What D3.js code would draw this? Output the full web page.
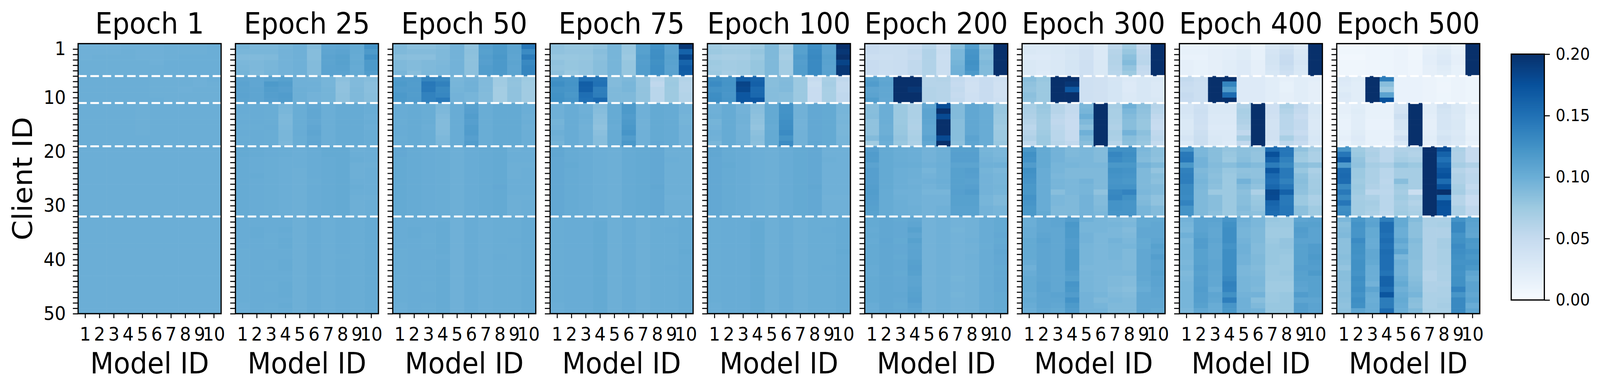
<!DOCTYPE html>
<html>
<head>
<meta charset="utf-8">
<script src="https://cdn.jsdelivr.net/npm/d3@7"></script>
<style>
html,body{margin:0;padding:0;background:#fff;width:100%;height:100%;overflow:hidden;}
svg{display:block;width:100vw;height:100vh;font-family:"DejaVu Sans",sans-serif;}
</style>
</head>
<body>
<svg id="chart" viewBox="0 0 4369 1001" preserveAspectRatio="none"></svg>
<script>
// ---------------- DATA (values in percent; >=20 is off the colour scale) ----------------
const epochTitles = ["Epoch 1","Epoch 25","Epoch 50","Epoch 75","Epoch 100","Epoch 200","Epoch 300","Epoch 400","Epoch 500"];
const modelIds = [1,2,3,4,5,6,7,8,9,10];
const clientTickLabels = [1,10,20,30,40,50];
const groupBoundaries = [6,11,19,32];
const colorbarTicks = [0,0.05,0.10,0.15,0.20];

const epoch1 = [
[9.7,9.7,9.7,9.8,9.8,9.8,9.9,9.9,9.9,10],[9.8,9.8,9.8,9.9,9.8,9.8,9.9,9.9,9.9,10],[9.8,9.9,9.9,9.9,9.8,9.8,9.9,10,10,10],
[9.9,9.9,9.9,9.9,9.9,9.8,10,10,10,10],[9.9,9.9,9.9,9.9,9.9,9.9,10,10,10,10],[9.9,9.9,9.9,9.9,9.9,9.9,10,10,10,10],
[10,10,10,10,10,9.9,9.9,9.9,9.8,10],[10,10,10,10,10,9.9,9.9,9.9,9.8,9.9],[10,10,10,10,10,9.9,9.9,9.8,9.9,9.9],
[10,10,10,10,10,9.9,9.9,9.9,9.9,9.9],[10,10,10,10,10,10,9.9,9.9,9.9,9.9],
[10,10,10,10,9.9,10,10,10,10,10],[10,10,10,10,9.9,10,10,10,10,10],[10,10,10,10,9.9,10,10,10,10,10],[10,10,10,10,9.9,10,10,10,10,10],
[10,10,10,10,9.9,10,10,10,10,10],[10,10,10,10,9.9,10,10,10,10,10],[10,10,10,10,10,10,10,10,10,10],[10,10,10,10,10,10,10,10,10,10],
[10,10,10,10,10,10,10,10,10,10],[10,10,10,10,10,10,10,10,10,10],[10,10,10,10,10,10,10,10,10,10],[10,10,10,10,10,10,10,10,10,10],
[10,10,10,10,10,10,10,10,10,10],[10,10,10,10,10,10,10,10,10,10],[10,10,10,10,10,10,10,10,10,10],[10,10,10,10,10,10,10,10,10,10],
[10,10,10,10,10,10,10,10,10,10],[10,10,10,10,10,10,10,10,10,10],[10,10,10,10,10,10,10,10,10,10],[10,10,10,10,10,10,10,10,10,10],
[10,10,10,10,10,10,10,10,10,10],
[10,10,10,10,10,10,10,10,10,10],[10,10,10,10,10,10,10,10,10,10],[10,10,10,10,10,10,10,10,10,10],[10,10,10,10,10,10,10,10,10,10],
[10,10,10,10,10,10,10,10,10,10],[10,10,10,10,10,10,10,10,10,10],[10,10,10,10,10,10,10,10,10,10],[10,10,10,10,10,10,10,10,10,10],
[10,10,10,10,10,10,10,10,10,10],[10,10,10,10,10,10,10,10,10,10],[10,10,10,10,10,10,10,10,10,10],[10,10,10,10,10,10,10,10,10,10],
[10,10,10,10,10,10,10,10,10,10],[10,10,10,10,10,10,10,10,10,10],[10,10,10,10,10,10,10,10,10,10],[10,10,10,10,10,10,10,10,10,10],
[10,10,10,10,10,10,10,10,10,10],[10,10,10,10,10,10,10,10,10,10]
];

const epoch25 = [
[9.5,9.2,9.2,9.5,9.8,8.8,10.7,10.8,10.4,12.4],[9.3,9.3,9.3,9.6,9.8,8.7,10.8,11.0,10.4,11.8],[8.9,8.9,9.0,9.6,9.8,8.7,11.0,11.2,10.3,12.5],
[9.2,9.1,9.3,9.6,9.8,8.8,10.9,11.2,10.4,11.8],[9.3,9.1,9.3,9.6,9.8,8.8,11.0,11.1,10.3,11.8],[9.5,9.0,9.4,9.6,9.8,8.8,11.0,11.0,10.4,11.5],
[10.8,10.7,11.0,11.2,9.8,9.7,9.4,8.4,8.9,8.7],[11.0,10.7,11.8,11.5,9.8,9.8,9.4,8.2,8.9,8.5],[10.9,10.8,11.5,11.3,9.9,9.8,9.5,8.2,9.0,8.5],
[11.0,10.8,11.4,11.6,9.9,9.6,9.5,8.3,9.0,8.6],[10.9,10.8,11.3,11.5,9.9,9.6,9.5,8.3,9.0,8.6],
[10.2,10.2,10.1,9.4,10.1,10.5,10.0,10.3,10.3,10.1],[10.2,10.2,10.1,9.3,10.1,10.6,10.0,10.3,10.3,10.1],[10.1,10.2,10.1,9.1,10.1,10.6,10.0,10.3,10.3,10.0],
[10.2,10.2,10.1,9.1,10.1,10.5,10.0,10.3,10.3,10.1],[10.1,10.1,10.2,9.2,10.1,10.7,10.0,10.3,10.3,10.0],[10.2,10.2,10.1,9.3,10.2,10.8,10.0,10.3,10.3,10.1],
[10.1,10.2,10.1,9.3,10.1,10.6,10.0,10.3,10.3,10.1],[10.2,10.2,10.1,9.2,10.1,10.7,10.0,10.3,10.3,10.1],
[10.4,10.3,10.2,10.1,10.0,10.2,10.4,10.4,9.9,10.0],[10.4,10.3,10.2,10.1,10.0,10.2,10.4,10.4,10.0,10.0],[10.3,10.2,10.1,10.0,10.0,10.2,10.3,10.4,10.1,10.0],
[10.3,10.2,10.1,10.0,10.0,10.2,10.3,10.4,9.9,9.9],[10.3,10.2,10.1,10.0,9.9,10.2,10.3,10.4,9.9,10.0],[10.3,10.3,10.1,10.0,9.9,10.2,10.3,10.4,9.9,10.0],
[10.3,10.2,10.1,10.0,9.9,10.1,10.3,10.4,10.0,10.0],[10.3,10.2,10.1,10.0,9.9,10.2,10.3,10.4,10.1,10.0],[10.3,10.2,10.1,10.0,9.9,10.2,10.3,10.4,10.0,10.0],
[10.3,10.2,10.1,10.0,9.9,10.2,10.3,10.4,9.9,9.9],[10.3,10.2,10.1,10.0,9.9,10.2,10.3,10.4,9.9,10.0],[10.3,10.2,10.1,10.0,9.9,10.2,10.3,10.4,9.9,10.0],
[10.3,10.2,10.1,10.0,9.9,10.2,10.3,10.4,9.9,10.0],
[10.2,10.2,10.2,10.2,9.9,10.2,10.0,10.2,10.1,10.3],[10.2,10.2,10.2,10.2,9.9,10.2,10.0,10.2,10.1,10.3],[10.2,10.3,10.2,10.3,9.9,10.2,10.0,10.2,10.1,10.3],
[10.2,10.3,10.1,10.2,9.9,10.2,10.0,10.2,10.1,10.3],[10.2,10.2,10.1,10.3,9.9,10.2,10.0,10.2,10.1,10.3],[10.2,10.2,10.1,10.3,9.9,10.2,10.0,10.2,10.1,10.3],
[10.1,10.2,10.2,10.2,9.9,10.2,10.0,10.2,10.1,10.3],[10.1,10.2,10.2,10.2,9.9,10.2,10.0,10.1,10.1,10.3],[10.1,10.2,10.1,10.3,9.9,10.2,10.0,10.2,10.1,10.3],
[10.1,10.2,10.1,10.3,9.9,10.2,10.0,10.2,10.1,10.3],[10.1,10.2,10.2,10.2,9.9,10.2,10.0,10.2,10.1,10.3],[10.1,10.2,10.2,10.2,9.9,10.2,10.0,10.2,10.1,10.3],
[10.1,10.2,10.1,10.3,9.9,10.2,10.0,10.2,10.1,10.3],[10.1,10.2,10.1,10.3,9.9,10.2,10.0,10.2,10.1,10.3],[10.1,10.2,10.2,10.3,9.9,10.2,10.0,10.2,10.1,10.3],
[10.1,10.2,10.2,10.2,9.9,10.2,10.0,10.2,10.1,10.3],[10.0,10.2,10.1,10.3,9.9,10.2,10.0,10.2,10.1,10.3],[10.0,10.2,10.1,10.2,9.9,10.2,10.0,10.2,10.1,10.3]
];

const epoch50 = [
[9.0,8.5,8.5,8.8,9.6,8.2,11.3,11.8,10.9,14.5],[9.0,8.8,8.8,9.0,9.6,8.4,11.2,11.8,10.9,13.0],[8.6,8.5,8.5,9.0,9.6,8.3,11.4,12.0,10.8,14.2],
[9.0,8.8,9.0,9.1,9.6,8.3,11.3,11.9,10.9,13.2],[9.0,8.8,9.0,9.2,9.6,8.3,11.5,11.9,10.8,13.5],[9.3,8.6,9.1,9.2,9.6,8.4,11.5,11.8,10.9,13.5],
[11.6,11.6,13.5,13.2,9.3,9.6,8.9,7.4,8.2,7.5],[11.8,11.5,14.5,13.8,9.4,9.7,8.9,7.3,8.1,7.4],[11.6,11.6,14.4,13.2,9.5,9.7,8.9,7.1,8.2,7.3],
[11.9,11.5,13.7,13.3,9.6,9.4,8.8,7.1,8.2,7.3],[11.8,11.6,13.7,14.3,9.6,9.4,8.8,7.1,8.2,7.3],
[10.2,10.3,10.1,9.2,10.2,11.2,10.1,10.4,10.4,10.0],[10.2,10.3,10.1,9.1,10.2,11.3,10.1,10.4,10.4,10.0],[10.2,10.3,10.1,8.9,10.2,11.5,10.1,10.4,10.4,9.9],
[10.1,10.3,10.1,8.8,10.2,11.3,10.1,10.4,10.4,10.0],[10.2,10.3,10.0,8.8,10.2,11.5,10.1,10.4,10.4,9.9],[10.2,10.3,10.1,8.9,10.2,11.6,10.1,10.4,10.4,10.0],
[10.1,10.3,10.1,9.1,10.2,11.3,10.1,10.4,10.4,10.0],[10.2,10.3,10.1,9.2,10.2,11.5,10.1,10.4,10.4,10.0],
[10.5,10.3,10.2,10.1,9.9,10.2,10.3,10.4,9.9,10.0],[10.5,10.3,10.2,10.1,9.9,10.2,10.3,10.4,10.0,10.0],[10.4,10.3,10.2,10.1,9.9,10.2,10.3,10.4,10.0,10.0],
[10.4,10.3,10.2,10.1,9.9,10.2,10.3,10.4,9.9,9.9],[10.4,10.3,10.2,10.1,9.9,10.2,10.3,10.4,9.9,10.0],[10.4,10.3,10.2,10.1,9.9,10.2,10.3,10.4,9.9,10.0],
[10.4,10.3,10.2,10.1,9.9,10.2,10.3,10.4,10.0,10.0],[10.4,10.3,10.2,10.1,9.9,10.2,10.3,10.5,10.0,10.0],[10.4,10.3,10.2,10.1,9.9,10.2,10.3,10.4,10.0,10.0],
[10.4,10.3,10.2,10.1,9.9,10.2,10.3,10.4,9.9,9.9],[10.4,10.3,10.2,10.1,9.9,10.2,10.3,10.4,9.9,10.0],[10.4,10.3,10.2,10.1,9.9,10.2,10.3,10.4,9.9,10.0],
[10.4,10.3,10.2,10.1,9.9,10.2,10.3,10.4,9.9,10.0],
[10.2,10.2,10.2,10.2,9.8,10.2,10.0,10.1,10.1,10.3],[10.2,10.2,10.2,10.3,9.8,10.2,10.0,10.1,10.1,10.3],[10.2,10.3,10.2,10.3,9.8,10.2,10.0,10.1,10.1,10.3],
[10.2,10.3,10.1,10.3,9.8,10.2,10.0,10.1,10.1,10.3],[10.2,10.2,10.1,10.3,9.8,10.2,10.0,10.1,10.2,10.3],[10.2,10.2,10.1,10.3,9.8,10.2,10.0,10.1,10.1,10.3],
[10.1,10.2,10.2,10.3,9.8,10.2,10.0,10.1,10.1,10.3],[10.1,10.2,10.2,10.2,9.8,10.2,10.0,10.2,10.1,10.3],[10.1,10.2,10.1,10.3,9.8,10.2,10.0,10.1,10.1,10.3],
[10.1,10.2,10.1,10.3,9.8,10.2,10.0,10.1,10.1,10.3],[10.1,10.2,10.2,10.3,9.8,10.2,10.0,10.1,10.1,10.3],[10.1,10.2,10.2,10.3,9.8,10.2,10.0,10.1,10.1,10.3],
[10.1,10.2,10.1,10.3,9.8,10.2,10.0,10.1,10.1,10.3],[10.1,10.2,10.1,10.3,9.8,10.2,10.0,10.1,10.1,10.3],[10.1,10.2,10.2,10.3,9.8,10.2,10.0,10.1,10.1,10.3],
[10.1,10.2,10.2,10.3,9.8,10.2,10.0,10.1,10.1,10.3],[10.0,10.2,10.1,10.3,9.8,10.2,10.0,10.1,10.1,10.3],[10.0,10.2,10.1,10.3,9.8,10.2,10.0,10.1,10.1,10.3]
];

const epoch75 = [
[8.2,7.9,7.9,8.2,9.4,7.8,11.2,12.5,11.0,19.5],[8.2,8.0,8.0,8.6,9.4,7.8,11.2,12.7,11.0,16.2],[7.8,7.8,7.9,8.4,9.4,7.6,11.5,12.8,11.2,18.2],
[8.2,7.9,8.0,8.6,9.4,7.9,11.4,12.6,11.1,16.0],[8.0,7.9,8.0,8.6,9.4,7.9,11.5,12.7,11.0,16.7],[8.3,7.7,8.0,8.6,9.4,7.9,11.5,12.7,11.1,16.5],
[12.4,12.2,15.0,14.8,8.8,9.1,8.0,5.8,7.5,6.2],[12.8,12.3,16.5,15.0,8.8,9.3,8.0,5.4,7.6,6.0],[12.3,12.2,16.3,14.0,9.0,9.3,8.1,5.8,7.5,6.0],
[12.5,12.0,15.2,14.1,9.0,9.0,8.1,5.8,7.5,6.2],[12.6,12.2,15.0,15.6,9.0,9.0,8.1,5.8,7.5,6.2],
[9.8,10.2,9.8,8.8,10.3,11.8,9.8,10.4,10.3,9.6],[9.8,10.2,9.8,8.7,10.3,11.8,9.8,10.4,10.3,9.6],[9.8,10.2,9.9,8.5,10.3,11.6,9.8,10.4,10.3,9.5],
[9.5,10.2,9.8,8.4,10.3,11.8,9.7,10.4,10.3,9.5],[9.6,10.2,9.7,8.2,10.2,12.0,9.7,10.4,10.3,9.6],[9.9,10.2,9.8,8.5,10.3,12.2,9.8,10.4,10.3,9.6],
[9.7,10.2,9.8,8.7,10.3,11.6,9.8,10.4,10.3,9.6],[9.5,10.2,9.8,8.7,10.3,12.0,9.8,10.5,10.3,9.6],
[10.6,10.3,10.2,10.0,9.9,10.3,10.4,10.5,9.9,9.9],[10.6,10.3,10.2,10.0,9.9,10.3,10.4,10.5,9.9,9.9],[10.5,10.3,10.2,10.0,9.9,10.3,10.4,10.5,10.0,9.9],
[10.5,10.4,10.2,10.0,9.9,10.3,10.4,10.5,9.9,9.9],[10.5,10.3,10.2,10.0,9.9,10.3,10.4,10.5,9.9,9.9],[10.5,10.3,10.2,10.0,9.9,10.3,10.4,10.5,9.9,9.9],
[10.5,10.3,10.2,10.0,9.9,10.3,10.4,10.5,9.9,9.9],[10.5,10.3,10.2,10.0,9.9,10.3,10.4,10.6,9.9,9.9],[10.5,10.3,10.2,10.0,9.9,10.3,10.4,10.5,9.9,9.9],
[10.5,10.3,10.2,10.0,9.9,10.3,10.4,10.5,9.8,9.8],[10.5,10.3,10.2,10.0,9.9,10.3,10.4,10.5,9.9,9.9],[10.5,10.3,10.2,10.0,9.9,10.3,10.4,10.5,9.9,9.9],
[10.5,10.3,10.2,10.0,9.9,10.3,10.4,10.5,9.9,9.9],
[10.1,10.2,10.2,10.3,9.9,10.2,9.9,10.1,10.1,10.3],[10.1,10.2,10.2,10.4,9.9,10.2,9.9,10.1,10.1,10.3],[10.1,10.2,10.2,10.4,9.9,10.2,9.9,10.1,10.2,10.3],
[10.1,10.2,10.2,10.4,9.9,10.2,9.9,10.1,10.1,10.3],[10.1,10.2,10.2,10.4,9.9,10.2,9.9,10.1,10.1,10.3],[10.1,10.2,10.2,10.4,9.9,10.2,9.9,10.1,10.1,10.3],
[10.1,10.2,10.2,10.4,9.9,10.2,9.9,10.1,10.1,10.4],[10.1,10.2,10.2,10.4,9.9,10.2,9.9,10.1,10.1,10.3],[10.1,10.2,10.2,10.4,9.9,10.2,9.9,10.1,10.1,10.3],
[10.1,10.2,10.2,10.4,9.9,10.2,9.9,10.1,10.2,10.3],[10.1,10.2,10.2,10.4,9.9,10.2,9.9,10.1,10.1,10.3],[10.1,10.2,10.2,10.4,9.9,10.2,9.9,10.1,10.1,10.3],
[10.1,10.2,10.2,10.4,9.9,10.2,9.9,10.1,10.1,10.3],[10.1,10.2,10.2,10.4,9.9,10.2,9.9,10.1,10.1,10.3],[10.1,10.2,10.2,10.4,9.9,10.2,9.9,10.1,10.1,10.3],
[10.1,10.2,10.2,10.4,9.9,10.2,9.9,10.1,10.1,10.3],[10.0,10.2,10.2,10.4,9.9,10.2,9.9,10.1,10.1,10.3],[10.0,10.2,10.2,10.4,9.9,10.2,9.9,10.1,10.1,10.3]
];

const epoch100 = [
[7.4,7.0,7.0,7.5,9.0,6.9,11.2,12.8,11.0,21],[7.6,7.3,7.3,7.9,9.0,7.2,11.2,13.0,11.0,19.5],[7.0,6.9,7.0,7.6,9.0,6.9,11.6,13.2,11.2,21],
[7.5,7.2,7.3,7.9,9.0,7.2,11.4,13.1,11.1,18.5],[7.3,7.2,7.3,7.9,9.0,7.2,11.5,13.1,11.0,19.5],[7.6,7.0,7.3,7.9,9.0,7.2,11.5,13.1,11.1,19.5],
[12.6,12.2,16.5,16.0,8.6,8.8,7.6,5.0,6.8,5.4],[13.0,12.3,18.5,16.3,8.6,8.9,7.6,4.6,7.0,5.1],[12.4,12.2,18.2,15.6,8.7,8.9,7.6,4.8,6.8,5.2],
[12.8,12.1,17.0,15.7,8.7,8.6,7.6,4.8,6.8,5.4],[12.9,12.2,17.0,17.0,8.7,8.6,7.6,4.8,6.8,5.4],
[9.8,10.3,9.6,8.6,10.4,12.4,9.7,10.5,10.4,9.4],[9.8,10.3,9.6,8.5,10.4,12.4,9.7,10.5,10.4,9.4],[9.9,10.3,9.7,8.3,10.4,12.5,9.7,10.5,10.4,9.3],
[9.5,10.3,9.7,8.2,10.4,12.7,9.6,10.5,10.4,9.4],[9.6,10.3,9.6,8.0,10.3,12.8,9.6,10.5,10.4,9.3],[9.8,10.3,9.7,8.4,10.4,13.0,9.7,10.5,10.4,9.3],
[9.7,10.3,9.7,8.6,10.4,12.3,9.7,10.5,10.4,9.4],[9.3,10.3,9.8,8.5,10.4,13.0,9.7,10.6,10.4,9.4],
[10.6,10.3,10.2,10.0,9.9,10.2,10.4,10.5,9.8,9.8],[10.6,10.3,10.2,10.0,9.9,10.2,10.4,10.5,9.8,9.8],[10.5,10.3,10.2,10.0,9.9,10.2,10.4,10.5,9.9,9.8],
[10.5,10.4,10.2,10.0,9.9,10.2,10.4,10.5,9.8,9.8],[10.5,10.3,10.2,10.0,9.9,10.2,10.4,10.5,9.8,9.8],[10.5,10.3,10.2,10.0,9.9,10.2,10.4,10.5,9.8,9.8],
[10.5,10.3,10.2,10.0,9.9,10.2,10.4,10.5,9.8,9.8],[10.5,10.3,10.2,10.0,9.9,10.2,10.4,10.6,9.8,9.8],[10.5,10.3,10.2,10.0,9.9,10.2,10.4,10.5,9.8,9.8],
[10.5,10.3,10.2,10.0,9.9,10.2,10.4,10.5,9.7,9.7],[10.5,10.3,10.2,10.0,9.9,10.2,10.4,10.5,9.8,9.8],[10.5,10.3,10.2,10.0,9.9,10.2,10.4,10.5,9.8,9.8],
[10.5,10.3,10.2,10.0,9.9,10.2,10.4,10.5,9.8,9.8],
[10.1,10.2,10.2,10.3,9.9,10.2,9.9,10.1,10.1,10.3],[10.1,10.2,10.2,10.4,9.9,10.2,9.9,10.1,10.1,10.3],[10.1,10.2,10.2,10.4,9.9,10.2,9.9,10.1,10.2,10.3],
[10.1,10.2,10.2,10.4,9.9,10.2,9.9,10.1,10.1,10.3],[10.1,10.2,10.2,10.4,9.9,10.2,9.9,10.1,10.1,10.3],[10.1,10.2,10.2,10.4,9.9,10.2,9.9,10.1,10.1,10.3],
[10.1,10.2,10.2,10.4,9.9,10.2,9.9,10.1,10.1,10.4],[10.1,10.2,10.2,10.4,9.9,10.2,9.9,10.1,10.1,10.3],[10.1,10.2,10.2,10.4,9.9,10.2,9.9,10.1,10.1,10.3],
[10.1,10.2,10.2,10.4,9.9,10.2,9.9,10.1,10.2,10.3],[10.1,10.2,10.2,10.4,9.9,10.2,9.9,10.1,10.1,10.3],[10.1,10.2,10.2,10.4,9.9,10.2,9.9,10.1,10.1,10.3],
[10.1,10.2,10.2,10.4,9.9,10.2,9.9,10.1,10.1,10.3],[10.1,10.2,10.2,10.4,9.9,10.2,9.9,10.1,10.1,10.3],[10.1,10.2,10.2,10.4,9.9,10.2,9.9,10.1,10.1,10.3],
[10.1,10.2,10.2,10.4,9.9,10.2,9.9,10.1,10.1,10.3],[10.0,10.2,10.2,10.4,9.9,10.2,9.9,10.1,10.1,10.3],[10.0,10.2,10.2,10.4,9.9,10.2,9.9,10.1,10.1,10.3]
];

const epoch200 = [
[4.8,4.5,4.6,4.8,5.8,4.2,8.6,11.5,8.2,25],[4.8,4.6,4.6,5.2,6.3,4.6,9.2,12.2,8.8,25],[4.4,4.4,4.6,5.0,6.3,4.4,9.2,12.4,8.6,25],
[4.8,4.6,4.7,5.3,6.3,4.6,9.5,12.6,9.0,25],[4.8,4.6,4.7,5.3,6.3,4.6,9.7,12.4,8.8,25],[4.8,4.5,4.7,5.3,6.3,4.6,9.8,11.8,8.8,25],
[11.2,10.6,25,25,6.0,6.2,5.2,4.2,4.8,4.2],[11.6,10.8,25,25,6.0,6.0,5.0,4.0,4.8,4.0],[10.8,10.6,25,19.5,6.2,6.0,5.2,4.0,4.8,4.0],
[11.0,10.6,25,25,6.2,6.0,5.0,4.2,4.8,4.0],[11.5,10.5,25,25,6.2,6.0,5.2,4.2,4.8,4.2],
[8.6,10.0,7.6,6.6,10.6,17.8,8.8,10.6,10.2,7.8],[8.6,10.0,7.6,6.6,10.9,20,8.8,10.6,10.2,7.8],[8.7,10.0,7.6,6.6,10.9,18,8.8,10.6,10.2,7.6],
[8.2,10.0,7.6,6.5,10.8,20,8.6,10.6,10.2,7.6],[8.2,9.9,7.7,6.4,10.6,21,8.6,10.6,10.2,7.4],[8.2,9.9,7.8,6.6,10.6,21,8.6,10.6,10.2,7.6],
[8.8,10.2,8.0,6.8,11.0,18,8.6,11.0,10.2,7.6],[7.4,10.0,7.8,6.6,10.6,21,8.4,10.8,10.2,7.8],
[11.3,10.4,10.1,10.0,9.6,9.9,11.2,11.2,9.4,9.2],[11.6,10.4,10.1,10.0,9.6,9.9,11.3,11.3,9.5,9.2],[11.5,10.4,10.1,10.0,9.6,9.9,11.3,11.3,9.6,9.4],
[11.0,10.4,10.2,10.1,9.8,10.0,10.9,10.9,9.8,9.8],[11.3,10.4,10.0,9.9,9.4,9.9,11.2,11.4,9.5,9.2],[11.3,10.4,10.0,9.9,9.6,9.9,11.2,11.3,9.6,9.4],
[11.3,10.4,10.0,9.8,9.8,10.0,11.2,11.1,9.6,9.4],[11.4,10.4,10.0,9.9,9.6,9.9,11.2,11.3,9.6,9.5],[11.5,10.3,9.8,9.8,9.4,9.4,11.3,11.6,9.6,9.4],
[11.4,10.3,9.9,9.8,9.6,9.6,11.2,11.2,9.4,9.0],[11.3,10.3,10.0,9.8,9.6,9.6,11.2,11.2,9.4,9.0],[11.2,10.3,10.0,9.9,9.6,9.8,11.1,11.1,9.6,9.4],
[11.1,10.3,10.0,9.9,9.6,9.8,11.1,11.1,9.6,9.4],
[10.4,10.6,10.4,10.6,9.6,9.8,9.6,9.7,10.2,10.4],[10.4,10.6,10.5,10.8,9.6,9.8,9.6,9.7,10.2,10.4],[10.3,10.6,10.5,11.2,9.6,9.8,9.5,9.7,10.2,10.4],
[10.4,10.6,10.5,10.8,9.6,9.8,9.6,9.7,10.2,10.5],[10.3,10.7,10.4,11.2,9.6,9.8,9.6,9.8,10.2,10.4],[10.4,10.6,10.5,10.9,9.6,9.8,9.6,9.7,10.1,10.5],
[10.4,10.6,10.5,11.0,9.6,9.8,9.6,9.7,10.2,10.6],[10.4,10.6,10.4,11.0,9.6,9.8,9.6,9.8,10.2,10.5],[10.4,10.6,10.5,11.2,9.6,9.8,9.6,9.7,10.2,10.5],
[10.3,10.6,10.5,11.3,9.6,9.8,9.6,9.7,10.2,10.4],[10.3,10.6,10.4,11.2,9.6,9.8,9.6,9.7,10.2,10.5],[10.4,10.6,10.5,10.9,9.6,9.8,9.5,9.7,10.2,10.5],
[10.4,10.6,10.5,10.9,9.6,9.8,9.6,9.7,10.2,10.5],[10.4,10.6,10.5,11.1,9.6,9.8,9.6,9.7,10.2,10.5],[10.4,10.6,10.6,11.2,9.6,9.8,9.5,9.7,10.2,10.4],
[10.4,10.6,10.5,11.3,9.6,9.8,9.6,9.7,10.2,10.4],[10.2,10.6,10.4,11.0,9.6,9.8,9.6,9.7,10.2,10.4],[10.2,10.6,10.5,10.8,9.6,9.8,9.6,9.7,10.2,10.4]
];

const epoch300 = [
[2.8,2.8,2.9,3.2,3.8,2.7,5.5,7.2,5.0,25],[3.0,2.8,3.0,3.4,4.0,2.8,6.0,7.8,5.4,25],[2.6,2.6,2.9,3.3,4.0,2.8,6.2,8.4,5.6,25],
[3.0,2.8,3.0,3.5,4.2,3.0,6.2,8.8,5.8,25],[3.0,2.8,3.0,3.5,4.2,3.0,6.0,8.0,5.2,25],[3.0,2.6,3.0,3.4,4.2,3.0,5.8,7.5,5.0,25],
[8.6,7.8,25,25,4.2,4.0,3.4,2.8,3.2,3.0],[8.2,7.6,25,19.5,4.2,4.0,3.5,2.6,3.2,2.8],[8.0,7.6,25,17.0,4.2,4.0,3.5,2.6,3.2,2.8],
[8.4,7.6,25,25,4.2,4.0,3.5,2.8,3.2,2.8],[8.2,7.6,25,25,4.2,4.0,3.5,2.8,3.2,3.0],
[6.8,7.8,6.0,5.2,9.2,25,7.0,9.8,8.4,6.0],[6.6,7.6,6.0,5.2,9.4,25,6.8,9.2,8.2,5.8],[6.4,7.4,5.6,5.0,10.0,25,6.8,8.8,8.0,5.4],
[6.0,7.2,5.4,4.8,9.0,25,6.6,8.6,7.8,5.0],[5.6,7.2,5.6,4.8,8.4,25,6.4,8.6,7.8,4.8],[6.0,7.4,5.8,5.0,9.8,25,6.8,9.6,8.4,5.4],
[6.4,7.6,5.8,5.0,9.0,25,6.6,8.6,8.0,5.6],[5.6,7.6,6.0,5.4,8.6,25,6.0,8.4,7.8,5.2],
[12.0,10.4,9.6,9.0,9.2,8.8,12.6,12.6,9.2,8.4],[12.6,10.4,9.6,9.0,9.2,8.8,13.4,12.8,9.0,8.4],[12.4,10.4,9.6,9.2,9.2,8.8,13.0,12.6,8.8,8.2],
[11.6,10.4,9.4,9.4,9.2,9.2,12.0,12.0,9.6,9.0],[12.6,10.2,9.4,9.0,9.0,9.0,12.6,12.4,9.0,8.0],[12.4,10.2,9.2,9.0,9.0,9.0,12.4,12.2,9.0,8.6],
[12.2,10.2,9.4,9.2,9.6,9.0,12.2,12.0,9.0,8.4],[12.0,10.2,9.4,9.2,9.4,9.0,12.4,12.4,9.0,8.8],[12.0,10.2,8.6,9.2,9.4,8.2,13.2,13.6,9.2,8.8],
[12.4,10.2,9.2,9.0,9.6,8.8,13.4,12.6,8.8,8.2],[12.2,10.2,9.2,9.0,9.6,8.8,12.4,12.2,9.0,8.2],[12.0,10.2,9.0,9.0,9.6,9.0,12.4,12.2,9.4,8.8],
[12.0,10.4,9.0,9.0,9.6,9.2,12.2,12.2,9.4,8.8],
[10.0,10.6,10.8,11.4,9.8,9.4,9.2,9.0,10.4,10.4],[10.0,10.6,10.8,12.0,9.4,9.4,9.4,9.2,10.4,10.6],[10.2,10.6,10.6,11.8,9.4,9.4,9.2,8.8,10.6,10.6],
[10.2,10.8,10.6,11.8,9.6,9.2,9.2,9.0,10.6,10.6],[10.4,11.0,10.6,11.6,9.6,9.2,9.6,9.2,10.4,10.8],[10.4,10.8,10.6,11.6,9.4,9.2,9.4,9.4,10.4,11.2],
[10.4,10.8,10.6,11.8,9.4,9.2,9.4,9.0,10.6,11.0],[10.4,10.8,10.6,11.8,9.4,9.2,9.4,9.0,10.6,11.4],[10.2,10.8,10.6,11.8,9.4,9.2,9.2,9.0,10.6,11.0],
[9.8,10.8,10.6,11.8,9.2,9.2,9.2,9.0,10.6,11.0],[10.2,10.8,10.6,11.4,9.4,9.2,9.2,9.2,10.6,11.2],[10.4,10.8,10.6,11.2,9.4,9.2,9.0,8.8,10.6,11.0],
[10.4,11.0,10.6,12.2,9.4,9.2,9.0,8.8,10.4,11.0],[10.4,11.0,10.6,12.0,9.4,9.2,8.8,8.6,10.2,10.8],[10.2,10.8,11.0,11.6,9.6,9.4,9.0,8.8,10.6,10.8],
[10.4,10.8,10.8,12.4,9.6,9.0,9.2,9.0,10.6,10.6],[10.2,10.8,10.6,11.8,9.6,9.4,9.0,9.0,10.6,10.6],[10.0,10.6,10.4,11.6,9.6,9.6,9.0,9.0,10.6,10.4]
];

const epoch400 = [
[1.4,1.4,1.6,1.6,2.0,1.4,3.0,3.8,2.6,25],[1.6,1.6,1.8,2.0,2.4,1.6,3.4,4.4,3.0,25],[1.4,1.4,1.8,2.0,2.4,1.6,3.6,4.8,3.2,25],
[1.8,1.6,1.8,2.2,2.6,1.8,3.6,5.0,3.4,25],[1.8,1.6,1.8,2.2,2.6,1.8,3.4,4.6,3.2,25],[1.8,1.6,1.8,2.2,2.6,1.8,3.2,4.2,3.0,25],
[5.2,4.6,25,25,2.6,2.6,2.2,1.8,2.2,2.0],[4.8,4.4,25,13.5,2.6,2.6,2.2,1.6,2.2,1.8],[4.6,4.4,25,11.5,2.6,2.6,2.2,1.6,2.2,1.8],
[5.0,4.4,25,15.5,2.6,2.6,2.2,1.8,2.2,1.8],[4.8,4.4,25,25,2.6,2.6,2.2,1.8,2.2,1.8],
[3.4,4.2,3.0,3.0,6.4,25,4.2,6.6,5.4,3.2],[3.4,4.4,3.0,3.0,6.8,25,4.2,6.2,5.2,3.2],[3.2,4.2,2.8,2.8,6.6,25,4.0,5.8,4.8,3.0],
[2.8,4.2,2.8,2.8,6.4,25,3.8,5.8,5.2,2.8],[2.8,4.0,2.6,2.6,6.0,25,3.8,5.8,5.2,2.8],[3.0,4.4,2.8,2.8,5.4,25,4.0,5.6,4.8,3.0],
[3.4,4.6,3.0,2.8,7.0,25,4.0,6.8,5.4,3.2],[2.8,4.6,3.0,2.6,5.4,25,3.4,5.6,5.0,3.0],
[12.4,9.2,8.6,8.0,8.4,8.2,15.5,14.6,8.2,7.0],[14.4,9.2,8.6,7.8,8.4,8.0,17.6,14.6,7.6,6.6],[14.6,9.6,8.6,7.6,8.6,8.0,16.2,13.8,7.4,6.6],
[12.0,9.6,8.8,8.6,9.2,8.8,14.2,13.2,8.6,8.2],[13.8,9.0,8.6,7.8,8.2,8.2,17.0,14.4,7.8,6.6],[14.0,9.2,8.4,7.6,8.4,8.2,15.6,14.4,8.4,7.0],
[14.0,9.4,8.6,7.6,9.6,8.6,15.2,13.8,8.6,7.2],[13.2,9.2,8.4,7.6,8.8,8.2,15.8,14.6,8.4,7.2],[13.2,9.0,7.6,7.6,8.4,6.6,18.2,16.2,8.2,7.4],
[13.0,9.0,8.6,7.6,8.6,7.6,18.0,14.4,7.6,6.6],[13.6,9.0,8.6,7.6,8.6,7.8,16.0,14.4,7.6,6.8],[12.4,9.0,8.6,7.6,8.8,8.0,15.6,14.6,8.4,7.4],
[12.4,9.0,8.4,7.6,8.6,8.4,15.4,14.6,8.4,7.4],
[9.6,11.0,11.0,12.2,9.8,9.2,7.8,7.6,10.8,11.0],[9.4,11.0,10.8,12.6,9.6,9.2,7.6,7.6,11.2,11.2],[9.2,11.0,10.6,12.8,9.4,9.0,7.4,7.4,11.6,11.0],
[9.8,11.2,10.6,12.8,9.4,9.0,7.4,7.4,11.4,11.0],[9.2,11.6,10.8,12.8,9.6,9.0,7.6,8.0,11.0,11.0],[9.4,11.6,10.6,12.4,9.8,8.8,7.8,8.0,11.2,11.6],
[9.4,11.2,10.6,12.8,9.8,8.8,7.8,7.8,11.2,11.6],[9.4,11.2,10.6,12.8,9.6,9.0,7.8,7.6,11.2,11.8],[9.2,11.2,10.8,12.8,9.6,9.0,7.8,7.6,11.2,11.6],
[9.4,11.4,10.8,12.8,9.2,8.8,7.6,7.6,11.4,11.4],[9.0,11.2,10.6,12.8,9.2,9.0,7.6,7.8,11.2,11.8],[9.2,11.4,10.6,13.2,9.4,9.2,7.6,7.6,11.2,11.2],
[9.4,11.4,10.6,13.8,9.4,9.2,7.4,7.4,11.0,11.2],[9.4,11.6,10.2,13.6,9.4,9.0,7.4,7.4,10.8,11.2],[9.4,11.4,10.8,12.6,9.6,9.6,7.6,7.8,11.6,11.2],
[9.4,11.4,10.6,14.0,9.8,8.6,7.6,7.8,10.8,10.8],[9.4,11.2,10.2,12.2,9.8,9.0,7.8,7.8,11.4,11.0],[9.2,10.6,10.2,12.0,9.8,9.6,7.8,7.8,11.4,11.0]
];

const epoch500 = [
[0.6,0.6,0.8,0.8,1.0,0.6,1.6,2.0,1.4,25],[0.8,0.8,0.9,1.0,1.2,0.8,1.8,2.4,1.6,25],[0.6,0.6,0.9,1.0,1.2,0.8,2.0,2.6,1.8,25],
[0.8,0.8,0.9,1.0,1.2,0.9,2.0,2.8,1.8,25],[0.8,0.8,0.9,1.0,1.2,0.9,1.8,2.4,1.6,25],[0.8,0.8,0.9,1.0,1.2,0.9,1.8,2.2,1.6,25],
[2.8,2.4,25,14.2,1.4,1.4,1.2,1.0,1.2,1.0],[2.6,2.2,25,8.6,1.4,1.4,1.2,0.9,1.2,1.0],[2.4,2.2,25,7.6,1.4,1.4,1.2,0.9,1.2,1.0],
[2.8,2.2,25,11.0,1.4,1.4,1.2,1.0,1.2,1.0],[2.6,2.2,25,17.5,1.4,1.4,1.2,1.0,1.2,1.0],
[1.8,2.2,1.6,1.6,3.6,25,2.2,4.0,3.0,1.8],[1.8,2.4,1.6,1.6,3.8,25,2.2,3.6,3.0,1.8],[1.6,2.2,1.6,1.6,4.4,25,2.0,3.4,2.8,1.6],
[1.4,2.2,1.4,1.4,3.6,25,1.8,3.4,3.0,1.4],[1.4,2.2,1.4,1.4,3.6,25,1.8,3.4,3.0,1.4],[1.6,2.4,1.6,1.6,3.0,25,2.0,3.2,2.8,1.6],
[1.8,2.6,1.6,1.6,4.0,25,2.2,3.8,3.0,1.8],[1.4,2.4,1.6,1.4,3.2,25,1.8,3.4,2.8,1.6],
[12.2,7.4,6.4,5.6,6.4,6.4,25,17.8,6.6,5.0],[14.6,7.6,6.6,5.6,6.6,6.2,25,16.2,6.4,5.0],[16.4,8.0,6.4,5.6,7.0,6.6,25,15.0,6.4,5.0],
[11.6,8.2,7.0,6.6,8.0,7.6,25,16.0,7.0,6.4],[15.4,7.6,6.6,5.8,7.0,7.0,25,17.0,6.0,5.4],[15.6,7.6,6.6,5.8,7.0,7.0,25,17.5,6.4,5.6],
[15.4,7.4,6.6,5.6,8.6,7.0,25,15.4,6.4,5.6],[13.2,7.6,6.4,5.8,7.4,7.0,25,17.4,6.8,5.2],[14.4,7.4,5.6,5.6,7.0,4.6,25,20.0,7.0,5.6],
[13.2,7.0,6.6,5.8,7.4,6.6,25,15.0,6.0,4.8],[14.6,7.2,7.0,5.8,7.0,6.2,25,17.6,6.0,4.8],[12.8,7.2,6.8,5.8,7.2,6.6,25,17.4,6.6,5.4],
[13.0,7.2,6.6,5.6,7.4,6.8,25,17.4,6.6,5.4],
[9.2,12.0,10.8,14.0,10.4,8.8,6.6,6.6,12.4,11.2],[8.6,12.4,11.0,15.4,10.4,8.4,6.6,6.8,13.2,11.0],[8.8,12.2,10.4,15.4,10.0,8.4,6.4,6.4,13.2,10.8],
[9.0,12.2,10.4,15.0,10.0,8.4,6.4,6.4,12.4,10.6],[8.4,13.0,10.2,15.4,10.6,8.8,6.4,7.0,12.6,12.0],[8.4,12.6,10.2,15.0,10.0,8.6,6.4,7.0,13.0,11.8],
[8.4,12.6,10.6,15.4,10.8,8.6,6.4,6.8,12.8,12.4],[8.6,12.4,10.6,15.2,9.2,8.6,6.4,6.8,12.6,12.0],[8.4,12.6,10.4,15.2,9.8,8.4,6.4,6.8,12.4,12.4],
[8.0,12.6,10.0,15.2,9.6,8.4,6.4,6.6,12.6,12.0],[8.6,12.4,10.0,14.8,9.6,8.4,6.0,6.6,12.4,10.8],[8.6,12.8,10.0,16.2,10.0,8.6,6.0,6.6,12.6,10.4],
[8.4,12.6,9.6,16.2,10.4,8.8,6.4,6.4,12.6,11.0],[8.4,12.8,10.8,15.4,9.8,9.0,6.4,6.6,13.6,11.0],[8.6,12.4,10.2,17.2,10.2,9.4,6.6,6.6,12.2,10.6],
[8.4,12.8,10.0,14.2,10.4,8.6,6.6,6.8,13.2,11.0],[8.2,12.6,10.2,14.2,10.2,8.4,6.6,7.0,13.2,10.2],[8.4,10.8,10.2,15.4,10.0,9.0,6.8,6.8,13.2,10.8]
];

const panelData = [epoch1, epoch25, epoch50, epoch75, epoch100, epoch200, epoch300, epoch400, epoch500];

// ---------------- LAYOUT ----------------
const svg = d3.select("#chart");
svg.append("rect").attr("width",4369).attr("height",1001).attr("fill","#fff");

const panelLeft0 = 213.3, panelPitch = 429.6, panelW = 390.5;
const panelTop = 111.7, panelH = 691.3;
const FONT = "DejaVu Sans";
const TICK_FONT = 48;

// matplotlib "Blues" colour map, vmin 0, vmax 0.2
const bluesStops = ["#f7fbff","#deebf7","#c6dbef","#9ecae1","#6baed6","#4292c6","#2171b5","#08519c","#08306b"];
const color = d3.scaleLinear()
  .domain(d3.range(9).map(i => i * 0.2 / 8))
  .range(bluesStops)
  .interpolate(d3.interpolateRgb)
  .clamp(true);

const y = d3.scaleLinear().domain([0,50]).range([panelTop, panelTop + panelH]);

panelData.forEach((data, p) => {
  const x0 = panelLeft0 + p * panelPitch;
  const x = d3.scaleBand().domain(modelIds).range([x0, x0 + panelW]);
  const g = svg.append("g");

  const cells = [];
  data.forEach((row, r) => row.forEach((v, c) => cells.push({client: r + 1, model: modelIds[c], v: v / 100})));
  g.selectAll("rect.cell").data(cells).join("rect")
    .attr("class","cell")
    .attr("x", d => x(d.model))
    .attr("y", d => y(d.client - 1))
    .attr("width", d => d.model === 10 ? x.bandwidth() : x.bandwidth() + 0.6)
    .attr("height", d => d.client === 50 ? y(1) - y(0) : y(1) - y(0) + 0.6)
    .attr("fill", d => color(d.v));

  g.selectAll("line.sep").data(groupBoundaries).join("line")
    .attr("x1", x0).attr("x2", x0 + panelW)
    .attr("y1", d => y(d)).attr("y2", d => y(d))
    .attr("stroke","#fff").attr("stroke-width",5)
    .attr("stroke-dasharray","23.5,9.9");

  g.append("rect").attr("x",x0).attr("y",panelTop).attr("width",panelW).attr("height",panelH)
    .attr("fill","none").attr("stroke","#000").attr("stroke-width",3.3);

  const yAxis = d3.axisLeft(y).tickValues(d3.range(1,51)).tickSize(14.3).tickPadding(19)
    .tickFormat(d => (p === 0 && clientTickLabels.includes(d)) ? String(d) : "");
  const ya = g.append("g").attr("transform",`translate(${x0},0)`).call(yAxis);
  ya.select(".domain").remove();
  ya.selectAll(".tick line").attr("stroke","#000").attr("stroke-width",2.7);
  ya.selectAll(".tick text").attr("font-family",FONT).attr("font-size",TICK_FONT).attr("fill","#000");

  const xAxis = d3.axisBottom(x).tickSize(11.5).tickPadding(23);
  const xa = g.append("g").attr("transform",`translate(0,${panelTop + panelH})`).call(xAxis);
  xa.select(".domain").remove();
  xa.selectAll(".tick line").attr("stroke","#000").attr("stroke-width",2.7);
  xa.selectAll(".tick text").attr("font-family",FONT).attr("font-size",TICK_FONT).attr("fill","#000");

  g.append("text").attr("x", x0 + panelW/2).attr("y", 86).attr("text-anchor","middle")
    .attr("font-family",FONT).attr("font-size",74).text(epochTitles[p]);
  g.append("text").attr("x", x0 + panelW/2).attr("y", 956).attr("text-anchor","middle")
    .attr("font-family",FONT).attr("font-size",74).text("Model ID");
});

svg.append("text")
  .attr("transform", `translate(87,${panelTop + panelH/2}) rotate(-90)`)
  .attr("text-anchor","middle").attr("font-family",FONT).attr("font-size",74).text("Client ID");

// ---------------- COLORBAR ----------------
const cbX = 4126.6, cbW = 90.4, cbTop = 138.6, cbBot = 768;
const cbScale = d3.scaleLinear().domain([0,0.2]).range([cbBot, cbTop]);
const cbSteps = d3.range(0, 256).map(i => i / 256 * 0.2);
svg.append("g").selectAll("rect").data(cbSteps).join("rect")
  .attr("x", cbX).attr("width", cbW)
  .attr("y", d => cbScale(d + 0.2/256) - 0.4)
  .attr("height", cbScale(0) - cbScale(0.2/256) + 0.8)
  .attr("fill", d => color(d + 0.1/256));
svg.append("rect").attr("x",cbX).attr("y",cbTop).attr("width",cbW).attr("height",cbBot-cbTop)
  .attr("fill","none").attr("stroke","#000").attr("stroke-width",3.3);
const cbAxis = d3.axisRight(cbScale).tickValues(colorbarTicks).tickSize(15).tickPadding(16).tickFormat(d3.format(".2f"));
const cba = svg.append("g").attr("transform",`translate(${cbX + cbW},0)`).call(cbAxis);
cba.select(".domain").remove();
cba.selectAll(".tick line").attr("stroke","#000").attr("stroke-width",2.7);
cba.selectAll(".tick text").attr("font-family",FONT).attr("font-size",42).attr("fill","#000");
</script>
</body>
</html>
